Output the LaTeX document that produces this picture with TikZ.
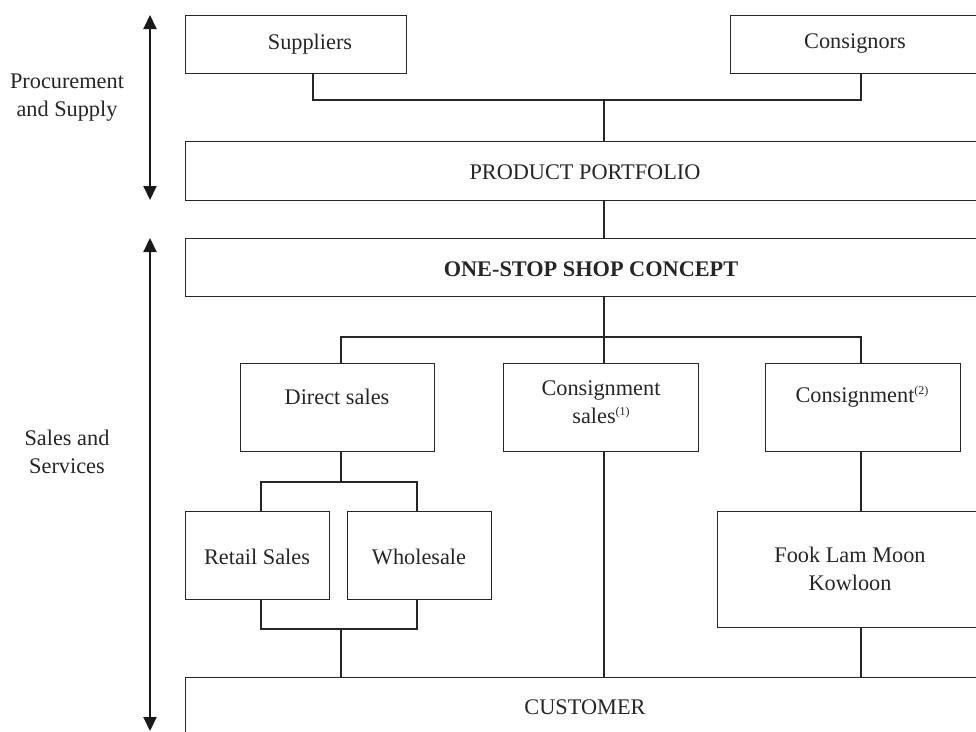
\documentclass[tikz,border=0pt]{standalone}
\usepackage{fontspec}
\setmainfont{Liberation Serif}
\usetikzlibrary{arrows.meta,calc}
\newcommand{\supnum}[1]{{\fontsize{12}{12}\selectfont\raisebox{8pt}{#1}}}
\begin{document}
\begin{tikzpicture}[x=1pt,y=-1pt,
  box/.style={draw=black!85, line width=1.3pt, inner sep=0pt, rectangle, anchor=north west},
  txt/.style={font=\fontsize{22.3}{28}\selectfont, align=center, inner sep=0pt, text=black!85},
  conn/.style={draw=black!85, line width=1.3pt},
  span/.style={draw=black!90, line width=2pt, {Triangle[length=14pt,width=13pt]}-{Triangle[length=14pt,width=13pt]}}]
\useasboundingbox (0,0) rectangle (976,731);
\begin{scope}
\clip (0,0) rectangle (976,731);
% boxes
\node[box, minimum width=221pt, minimum height=58pt] (sup) at (185,15) {};
\node[box, minimum width=250pt, minimum height=58pt] (con) at (730,15) {};
\node[box, minimum width=805pt, minimum height=59pt] (pp) at (185,141) {};
\node[box, minimum width=805pt, minimum height=58pt] (oss) at (185,238) {};
\node[box, minimum width=194pt, minimum height=88pt] (ds) at (240,363) {};
\node[box, minimum width=195pt, minimum height=88pt] (cs) at (503,363) {};
\node[box, minimum width=195pt, minimum height=88pt] (c2) at (765,363) {};
\node[box, minimum width=144pt, minimum height=88pt] (rs) at (185,511) {};
\node[box, minimum width=144pt, minimum height=88pt] (ws) at (347,511) {};
\node[box, minimum width=270pt, minimum height=116pt] (flm) at (717,511) {};
\node[box, minimum width=805pt, minimum height=80pt] (cust) at (185,677) {};
% texts
\node[txt] (tsup) at (310,44) {Suppliers};
\node[txt] (tcon) at (855,44) {Consignors};
\node[txt] (tpp) at (585,172) {PRODUCT PORTFOLIO};
\node[txt, font=\fontsize{22.3}{28}\selectfont\bfseries] (toss) at (591,269) {ONE-STOP SHOP CONCEPT};
\node[txt] (tds) at (337,397) {Direct sales};
\node[txt] (tcs) at (601,402) {Consignment\\sales\supnum{(1)}};
\node[txt] (tc2) at (862,397) {Consignment\supnum{(2)}};
\node[txt] (trs) at (257,557) {Retail Sales};
\node[txt] (tws) at (419,557) {Wholesale};
\node[txt] (tflm) at (850,569) {Fook Lam Moon\\Kowloon};
\node[txt] (tcust) at (585,707) {CUSTOMER};
% junction coordinates
\coordinate (j1) at (604,100);
\coordinate (j2) at (604,337);
\coordinate (jL) at (341,337);
\coordinate (jR) at (861,337);
\coordinate (jd) at (341,482);
\coordinate (jdl) at (261,482);
\coordinate (jdr) at (417,482);
\coordinate (jb) at (341,629);
\coordinate (jbl) at (261,629);
\coordinate (jbr) at (417,629);
% connectors
\draw[conn] (sup.south -| 313,0) |- (j1) -| (con.south -| 861,0);
\draw[conn] (j1) -- (j1 |- pp.north);
\draw[conn] (pp.south -| j1) -- (oss.north -| j1);
\draw[conn] (oss.south -| j1) -- (cs.north -| j1);
\draw[conn] (jL |- ds.north) -- (jL) -- (jR) -- (jR |- c2.north);
\draw[conn] (ds.south -| jd) -- (jd);
\draw[conn] (rs.north -| jdl) -- (jdl) -- (jdr) -- (ws.north -| jdr);
\draw[conn] (rs.south -| jbl) -- (jbl) -- (jbr) -- (ws.south -| jbr);
\draw[conn] (jb) -- (cust.north -| jb);
\draw[conn] (cs.south -| j1) -- (cust.north -| j1);
\draw[conn] (c2.south -| jR) -- (flm.north -| jR);
\draw[conn] (flm.south -| jR) -- (cust.north -| jR);
% side arrows
\coordinate (a1t) at (150,15);
\coordinate (a1b) at (150,200);
\coordinate (a2t) at (150,238);
\coordinate (a2b) at (150,731);
\draw[span] (a1t) -- (a1b);
\draw[span] (a2t) -- (a2b);
\node[txt] (lps) at (67,98) {Procurement\\and Supply};
\node[txt] (lss) at (67,452) {Sales and\\Services};
\end{scope}
\end{tikzpicture}
\end{document}
